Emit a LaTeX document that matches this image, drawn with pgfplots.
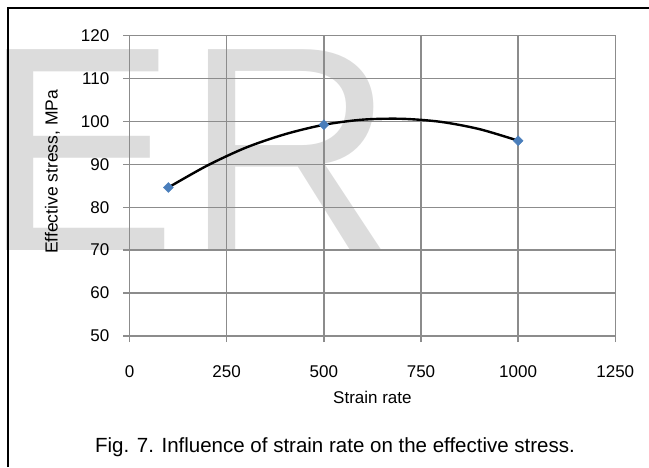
\documentclass[border=0pt]{standalone}
\usepackage{pgfplots}
\pgfplotsset{compat=1.18}
\usepackage{fontspec}
\setmainfont{Liberation Sans}
\definecolor{wm}{RGB}{220,220,220}
\definecolor{gridc}{RGB}{140,140,140}
\definecolor{mk}{RGB}{74,126,187}
\begin{document}
\begin{tikzpicture}[x=1pt,y=1pt]
\useasboundingbox (0,0) rectangle (649,467);
\clip (0,0) rectangle (649,467);
\node[anchor=base west, inner sep=0pt, text=wm, font=\fontsize{292}{292}\selectfont] at (-17.2,217) {E};
\node[anchor=base west, inner sep=0pt, text=wm, font=\fontsize{292}{292}\selectfont] at (184,217) {R};
\begin{axis}[
  at={(129.5pt,131pt)}, anchor=south west,
  scale only axis, width=485.8pt, height=300.5pt,
  xmin=0, xmax=1250, ymin=50, ymax=120,
  xtick={0,250,500,750,1000,1250},
  ytick={50,60,70,80,90,100,110,120},
  grid=major,
  grid style={color=gridc, line width=1.4pt},
  axis line style={color=gridc, line width=1.4pt},
  tick style={color=gridc, line width=1.4pt},
  tick align=outside, major tick length=6pt,
  xtick pos=bottom, ytick pos=left,
  /pgf/number format/assume math mode=true,
  /pgf/number format/1000 sep={},
  ticklabel style={font=\fontsize{17}{17}\selectfont, text=black},
  xticklabel style={inner sep=0pt, anchor=north, yshift=-23pt},
  yticklabel style={inner sep=0pt, anchor=east, xshift=-14pt},
  xlabel={Strain rate},
  ylabel={Effective stress, MPa},
  every axis x label/.style={at={(axis description cs:0.5,-0.206)}, anchor=center, font=\fontsize{17}{17}\selectfont},
  every axis y label/.style={at={(axis description cs:-0.1585,0.546)}, rotate=90, anchor=center, font=\fontsize{17.5}{17.5}\selectfont},
]
\addplot[black, line width=2.4pt, smooth, no markers] coordinates {
 (100,84.6) (200,89.7) (300,93.9) (400,97.0) (500,99.2) (600,100.4) (700,100.6) (800,99.9) (900,98.2) (1000,95.5)
};
\addplot[only marks, mark=square*, mark size=3.5pt, mark options={rotate=45, fill=mk, draw=mk}] coordinates {
 (100,84.6) (500,99.2) (1000,95.5)
};
\end{axis}
\draw[line width=2.4pt, black] (8,0) -- (8,459) -- (649,459);
\node[anchor=base, inner sep=0pt, font=\fontsize{20.5}{20.5}\selectfont] at (335,14.3) {Fig. 7. Influence of strain rate on the effective stress.};
\end{tikzpicture}
\end{document}
